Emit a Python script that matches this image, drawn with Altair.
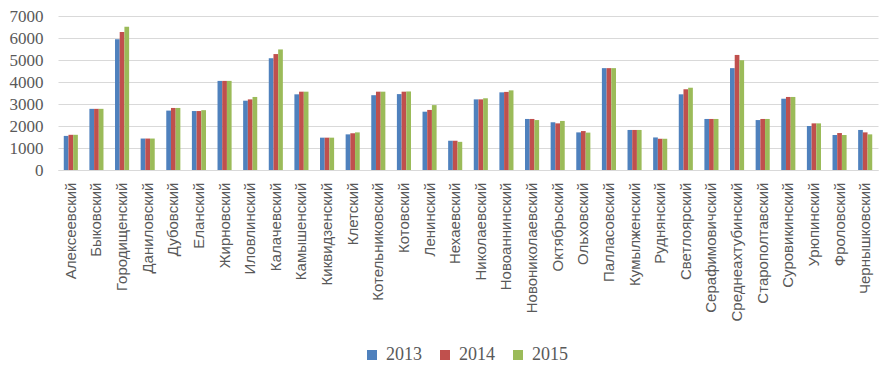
import altair as alt
import pandas as pd

districts = ["Алексеевский", "Быковский", "Городищенский", "Даниловский", "Дубовский",
             "Еланский", "Жирновский", "Иловлинский", "Калачевский", "Камышенский",
             "Киквидзенский", "Клетский", "Котельниковский", "Котовский", "Ленинский",
             "Нехаевский", "Николаевский", "Новоаннинский", "Новониколаевский", "Октябрьский",
             "Ольховский", "Палласовский", "Кумылженский", "Руднянский", "Светлоярский",
             "Серафимовичский", "Среднеахтубинский", "Старополтавский", "Суровикинский",
             "Урюпинский", "Фроловский", "Чернышковский"]
v2013 = [1550, 2780, 5940, 1430, 2700, 2680, 4050, 3150, 5080, 3440,
         1470, 1620, 3400, 3450, 2650, 1330, 3210, 3530, 2320, 2170,
         1710, 4630, 1820, 1480, 3440, 2320, 4630, 2270, 3240, 2000, 1590, 1820]
v2014 = [1600, 2780, 6270, 1430, 2820, 2680, 4050, 3210, 5270, 3560,
         1470, 1670, 3560, 3560, 2730, 1330, 3210, 3550, 2320, 2120,
         1770, 4630, 1820, 1420, 3670, 2320, 5230, 2320, 3320, 2120, 1680, 1710]
v2015 = [1600, 2780, 6510, 1430, 2820, 2720, 4050, 3320, 5480, 3560,
         1470, 1710, 3560, 3570, 2950, 1280, 3260, 3620, 2270, 2230,
         1700, 4630, 1820, 1420, 3740, 2320, 4990, 2320, 3320, 2120, 1590, 1620]
years = ["2013", "2014", "2015"]
colors = ["#4F81BD", "#C0504D", "#9BBB59"]

rows = []
for i, d in enumerate(districts):
    for y, vals in zip(years, [v2013, v2014, v2015]):
        rows.append({"district": d, "year": y, "value": vals[i]})
df = pd.DataFrame(rows)

chart = alt.Chart(df).mark_bar().encode(
    x=alt.X("district:N", sort=districts,
            scale=alt.Scale(paddingInner=0.45, paddingOuter=0.225),
            axis=alt.Axis(title=None, labelAngle=-90, labelAlign="right", labelBaseline="middle",
                          labelFont="Liberation Sans", labelFontSize=15, labelColor="#595959",
                          labelPadding=12, ticks=False, domainColor="#D9D9D9", labelLimit=200)),
    xOffset=alt.XOffset("year:N", scale=alt.Scale(paddingInner=0, paddingOuter=0)),
    y=alt.Y("value:Q", scale=alt.Scale(domain=[0, 7000], nice=False),
            axis=alt.Axis(title=None, values=list(range(0, 7001, 1000)), format="d",
                          labelFont="Liberation Serif", labelFontSize=17, labelColor="#595959",
                          labelPadding=15, ticks=False, domain=False, gridColor="#D9D9D9")),
    color=alt.Color("year:N", scale=alt.Scale(domain=years, range=colors),
                    legend=alt.Legend(title=None, orient="none", direction="horizontal",
                                      legendX=305, legendY=330, symbolType="square",
                                      symbolSize=100, symbolStrokeWidth=0,
                                      labelFont="Liberation Serif", labelFontSize=18,
                                      labelColor="#595959", columnPadding=14, labelOffset=5)),
).properties(
    width=820, height=154,
    autosize=alt.AutoSizeParams(type="none"),
    padding={"left": 50, "top": 8, "right": 3, "bottom": 194},
).configure_view(stroke=None)

chart.save("out.html", embed_options={"renderer": "svg", "actions": False})
